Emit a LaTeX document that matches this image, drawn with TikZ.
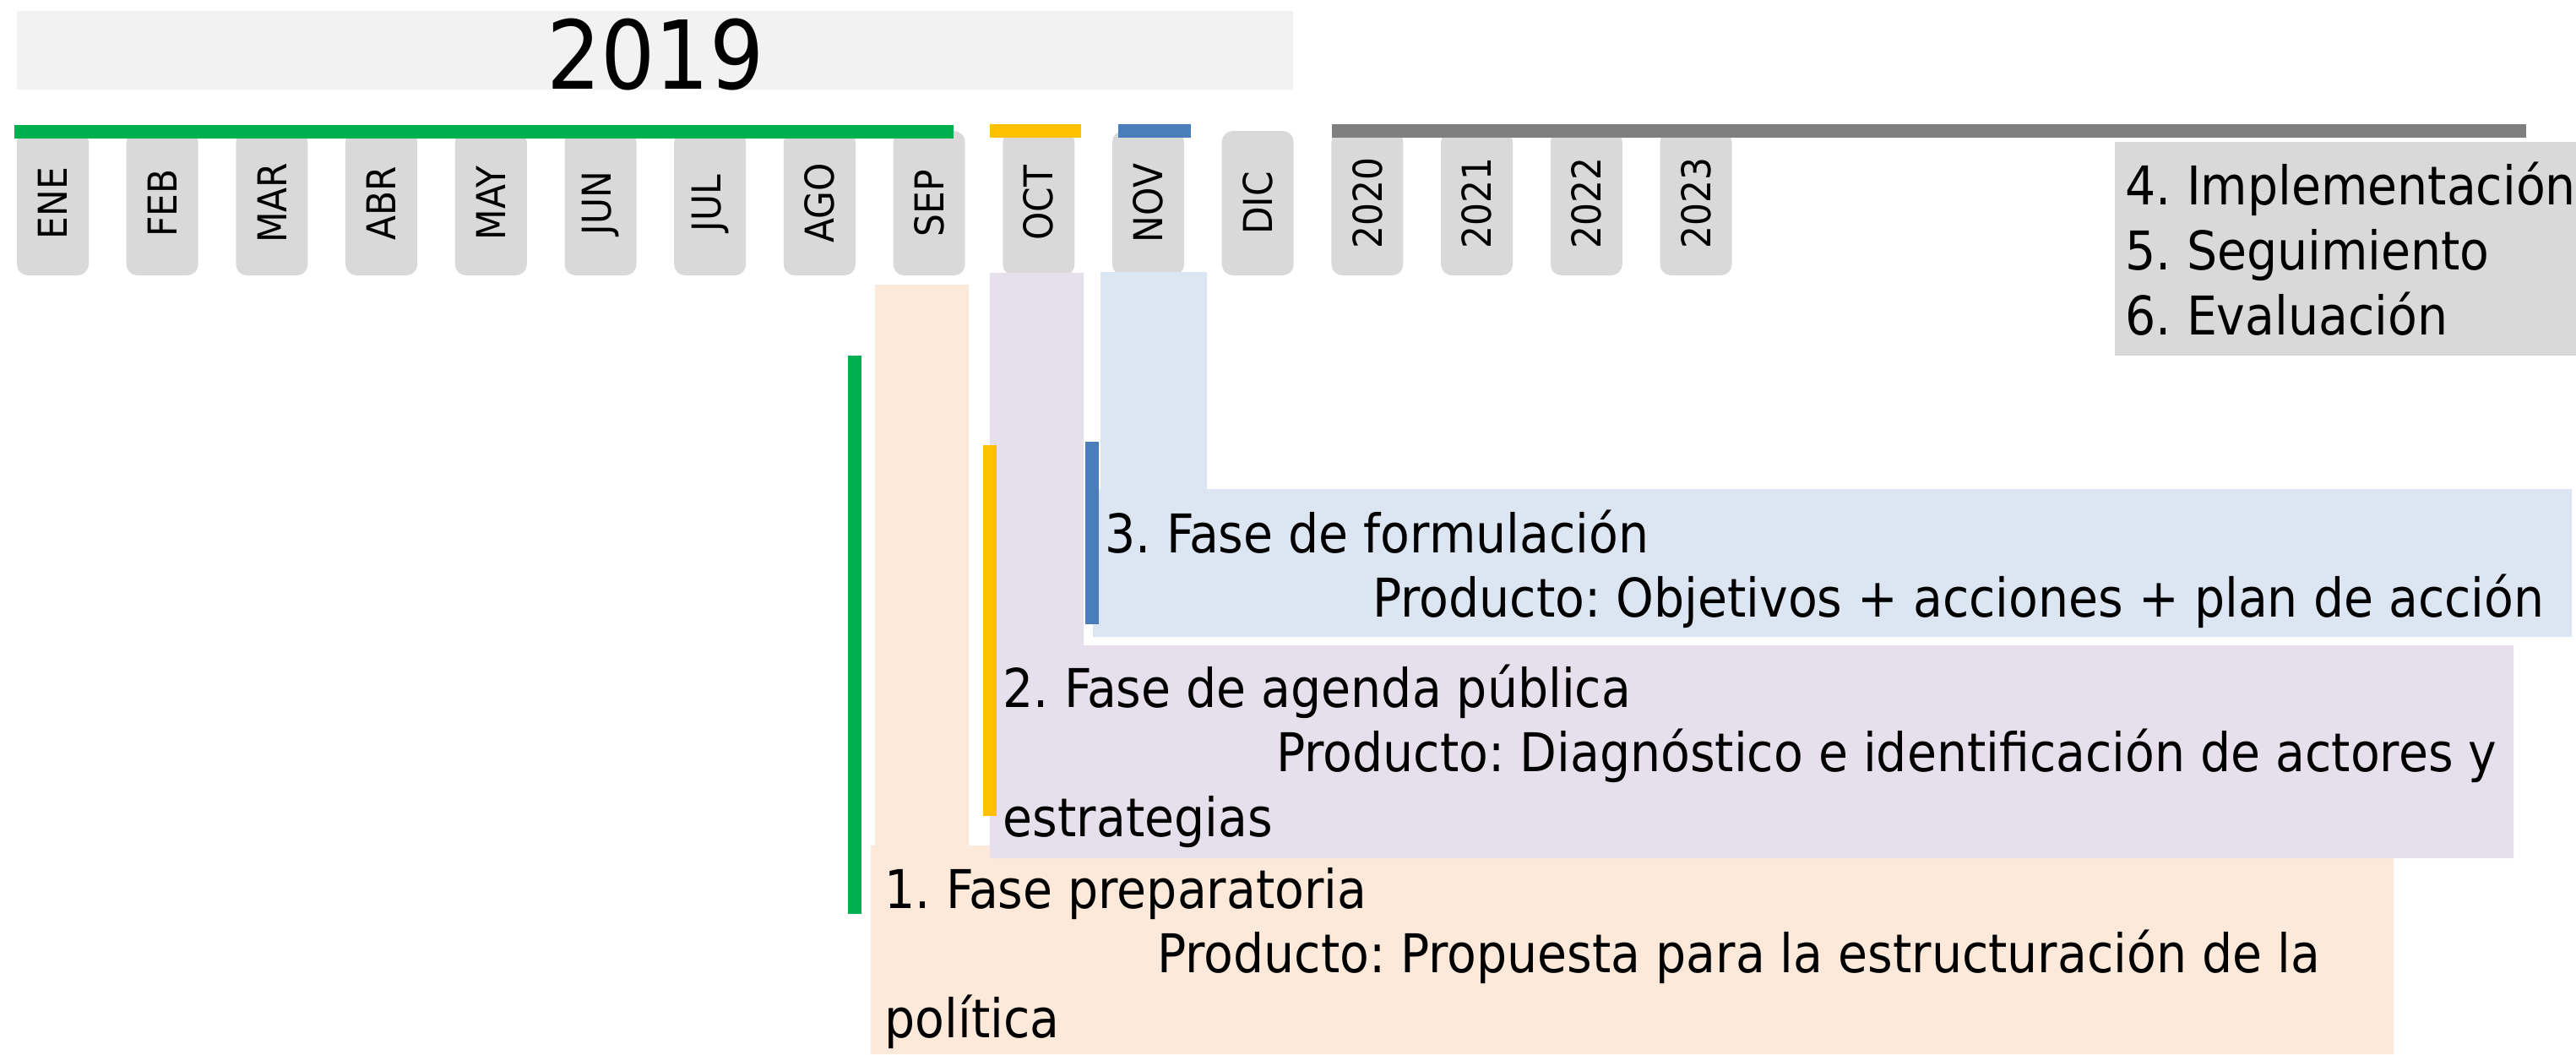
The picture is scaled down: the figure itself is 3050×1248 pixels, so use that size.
\documentclass[tikz,border=0pt]{standalone}
\usepackage{fontspec}
\setmainfont{DejaVu Sans Condensed}
\frenchspacing
\definecolor{verde}{HTML}{00B050}
\definecolor{amarillo}{HTML}{FFC000}
\definecolor{azul}{HTML}{4A7EBB}
\definecolor{grisoscuro}{HTML}{7F7F7F}
\definecolor{gris}{HTML}{D9D9D9}
\definecolor{grisclaro}{HTML}{F2F2F2}
\definecolor{durazno}{HTML}{FCE9DA}
\definecolor{lila}{HTML}{E5E0EC}
\definecolor{celeste}{HTML}{DCE6F2}
\tikzset{
	mes/.style={fill=gris, rounded corners=1.3mm, rotate=90, inner sep=0pt,
		minimum width=17.1mm, minimum height=8.5mm,
		font=\fontsize{13.4}{16}\selectfont},
	txt/.style={anchor=base west, inner sep=0pt, font=\fontsize{18}{21.7}\selectfont}
}
\begin{document}
\begin{tikzpicture}[x=0.1mm, y=-0.1mm]
	\useasboundingbox (0,0) rectangle (3050,1248);
	\fill [grisclaro] (20,13) rectangle (1531,106);
	\node [anchor=base, inner sep=0pt, font=\fontsize{32}{40}\selectfont] (anio) at (776,105) {2019};
	\foreach \m [count=\i from 0] in {ENE,FEB,MAR,ABR,MAY,JUN,JUL,AGO,SEP,OCT,NOV,DIC,2020,2021,2022,2023}
	\node [mes] (m\i) at ({62.5+129.7*\i},240.5) {\m};
	\fill [verde] (17,148) rectangle (1129,164);
	\fill [amarillo] (1172,147) rectangle (1280,163);
	\fill [azul] (1324,147) rectangle (1410,163);
	\fill [grisoscuro] (1577,147) rectangle (2991,163);
	\fill [gris] (2504,168) rectangle (3050,421);
	\foreach \t [count=\i] in {4. Implementación, 5. Seguimiento, 6. Evaluación}
	\node [txt] (e\i) at (2516,{165+77*\i}) {\t};
	\fill [durazno] (1036,337) rectangle (1147,1010) (1031,1001) rectangle (2834,1248);
	\fill [lila] (1172,323) rectangle (1283,1016) (1172,764) rectangle (2976,1016);
	\fill [celeste] (1303,322) rectangle (1429,754) (1294,579) rectangle (3045,754);
	\fill [verde] (1004,421) rectangle (1020,1082);
	\fill [amarillo] (1164,527) rectangle (1180,966);
	\fill [azul] (1285,523) rectangle (1301,739);
	\node [txt] (f3a) at (1308,654) {3. Fase de formulación};
	\node [txt] (f3b) at (1625,730) {Producto: Objetivos + acciones + plan de acción};
	\node [txt] (f2a) at (1187,837) {2. Fase de agenda pública};
	\node [txt] (f2b) at (1511,913) {Producto: Diagnóstico e identificación de actores y};
	\node [txt] (f2c) at (1187,990) {estrategias};
	\node [txt] (f1a) at (1047,1075) {1. Fase preparatoria};
	\node [txt] (f1b) at (1370,1151) {Producto: Propuesta para la estructuración de la};
	\node [txt] (f1c) at (1047,1228) {política};
\end{tikzpicture}
\end{document}
